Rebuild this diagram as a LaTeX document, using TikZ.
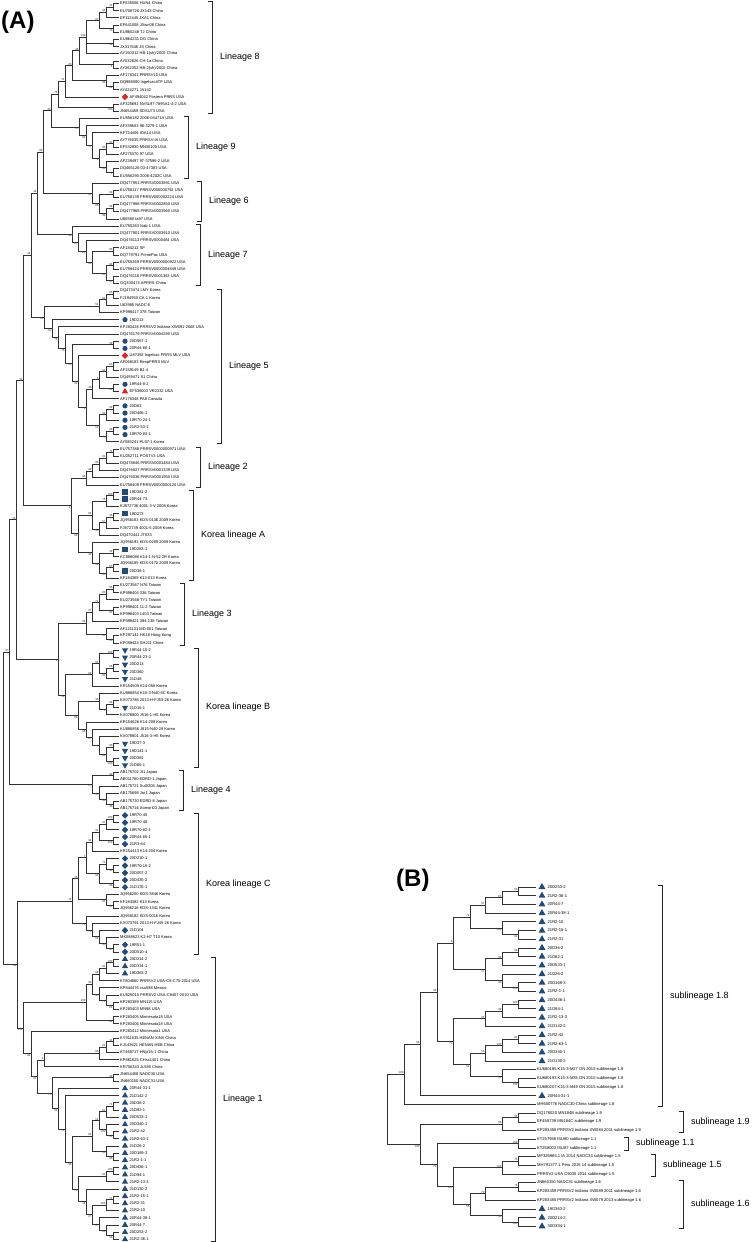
\documentclass[tikz,border=0pt]{standalone}
\usepackage{fontspec}
\setmainfont{Liberation Sans}
\usetikzlibrary{calc,shapes.geometric}

\definecolor{mkblue}{RGB}{31,75,125}
\definecolor{mkred}{RGB}{232,32,30}

% a clade: name, x, bootstrap, children from top to bottom
\newcommand\clade[4]{%
  \foreach \kid [count=\kn] in {#4}{\ifnum\kn=1 \xdef\kfirst{\kid}\fi \xdef\klast{\kid}}%
  \path let \p1=($(\kfirst)!.5!(\klast)$) in coordinate (#1) at (#2pt,\y1);
  \expandafter\xdef\csname bs#1\endcsname{#3}%
  \foreach \kid [count=\kn] in {#4}{%
    \draw[branch] (#1) |- (\kid);
    \ifcsname bs\kid\endcsname
      \ifnum\kn=1 \node[boot, anchor=south east] (v\kid) at (\kid) {\csname bs\kid\endcsname};%
      \else \node[boot, anchor=north east] (v\kid) at (\kid) {\csname bs\kid\endcsname};\fi
    \fi}%
}
% a bracket: x, first tip, last tip, text, name
\newcommand\lineage[5]{%
  \path let \p1=(#2), \p2=(#3) in
    coordinate (#5t) at (#1pt,\y1+2pt)
    coordinate (#5b) at (#1pt,\y2-2pt);
  \draw[bracket] ([xshift=-4.5pt]#5t) -- (#5t) -- (#5b) -- ([xshift=-4.5pt]#5b);
  \path ($(#5t)!.5!(#5b)$) ++(8,0) node[lin] (#5) {#4};
}

\begin{document}
\begin{tikzpicture}[x=1pt, y=-1pt,
  branch/.style={draw=black!80, line width=0.8pt},
  boot/.style={font=\fontsize{2.9}{3}\selectfont, inner sep=0.3pt, text=black!80},
  leafA/.style={font=\fontsize{4}{4.6}\selectfont, inner sep=0pt, anchor=west},
  leafB/.style={font=\fontsize{4.1}{4.8}\selectfont, inner sep=0pt, anchor=west},
  bracket/.style={draw=black!85, line width=0.8pt},
  lin/.style={font=\fontsize{9}{10}\selectfont, inner sep=0pt, anchor=west},
  panel/.style={font=\fontsize{24}{26}\selectfont\bfseries, inner sep=0pt, anchor=west},
  mkc/.style={circle, fill=mkblue, minimum size=5.2pt, inner sep=0pt},
  mks/.style={rectangle, fill=mkblue, minimum size=5.6pt, inner sep=0pt},
  mkd/.style={diamond, fill=mkblue, minimum size=6.6pt, inner sep=0pt},
  mkv/.style={regular polygon, regular polygon sides=3, shape border rotate=180, fill=mkblue, minimum size=7.2pt, inner sep=0pt},
  mkt/.style={regular polygon, regular polygon sides=3, fill=mkblue, minimum size=7.2pt, inner sep=0pt},
  mkr/.style={diamond, fill=mkred, minimum size=6.6pt, inner sep=0pt},
  mkq/.style={regular polygon, regular polygon sides=3, fill=mkred, minimum size=7.2pt, inner sep=0pt}]

\path[use as bounding box, fill=white] (0,0) rectangle (752,1242);

\node[panel] (pa) at (1,22) {(A)};
\node[panel] (pb) at (396,880) {(B)};

% tree A tips
\foreach \txt/\mk [count=\i from 0] in {
  EF635006 HUN4 China/n,
  EU708726 JX143 China/n,
  EF112445 JXA1 China/n,
  EF641008 JXwn06 China/n,
  EU860248 TJ China/n,
  EU864231 DG China/n,
  JX317648 JS China/n,
  {AY150312 HB-1(sh)/2002 China}/n,
  AY032626 CH-1a China/n,
  {AY262352 HB-2(sh)/2002 China}/n,
  AF176341 PRRSV10 USA/n,
  DQ988080 IngelvacATP USA/n,
  AY424271 JA142/n,
  AF494042 Fostera PRRS USA/r,
  AF325691 NVSL97-7895A1-4-2 USA/n,
  JN654459 SDSU73 USA/n,
  EU556182 2006-04471A USA/n,
  AF339503 98-3279-1 USA/n,
  KF724406 IOA14 USA/n,
  AY776035 PRRSV-IA USA/n,
  EF532830 MN30100 USA/n,
  AF275370 97 USA/n,
  AF239497 97-37596-2 USA/n,
  DQ465126 03-47383 USA/n,
  EU556290 2006-4202C USA/n,
  DQ477951 PRRSV0003891 USA/n,
  EU758117 PRRSV000000792 USA/n,
  EU758139 PRRSV000002224 USA/n,
  DQ477988 PRRSV0002850 USA/n,
  DQ477968 PRRSV0003960 USA/n,
  U66560 Ia97 USA/n,
  EU755263 Nab-1 USA/n,
  DQ477901 PRRSV0003910 USA/n,
  DQ476113 PRRSV0000484 USA/n,
  AF184212 SP/n,
  DQ779791 PrimePac USA/n,
  EU755269 PRRSV0000000922 USA/n,
  EU758424 PRRSV0000004849 USA/n,
  DQ476116 PRRSV0001363 USA/n,
  GQ330474 APRRS China/n,
  DQ473474 LMY Korea/n,
  FJ194950 CA-1 Korea/n,
  U63985 NADC-8/n,
  KP998417 378 Taiwan/n,
  19D213/c,
  KP283426 PRRSV2 Indiana XW091-2008 USA/n,
  DQ476179 PRRSV0004280 USA/n,
  20D567-1/c,
  20R44-60-1/c,
  U87392 Ingelvac PRRS MLV USA/r,
  AF066183 RespPRRS MLV/n,
  AF159149 BJ-4/n,
  DQ459471 S1 China/n,
  19R44-8-2/c,
  EF536003 VR2332 USA/q,
  AF176348 PA8 Canada/n,
  20D63/c,
  20D466-1/c,
  19R70-24-1/c,
  21R2-53-1/c,
  19R70-83-1/c,
  AY585241 PL97-1 Korea/n,
  EU757388 PRRSV0000000971 USA/n,
  KU252711 POSTV3 USA/n,
  DQ478846 PRRSV0001484 USA/n,
  DQ476827 PRRSV0001339 USA/n,
  DQ476036 PRRSV0001950 USA/n,
  EU758409 PRRSV0000000120 USA/n,
  19D381-2/s,
  20R44-73/s,
  KJ872738 4001-3-V-2008 Korea/n,
  19D273/s,
  JQ956183 KDS-0136 2009 Korea/n,
  FJ872739 4001-5-2008 Korea/n,
  DQ470441 JT633/n,
  JQ956191 KDS-0209 2009 Korea/n,
  19D283-1/s,
  KC888086 K14-1-N-52 2R Korea/n,
  JQ956185 KDS-0170 2009 Korea/n,
  20D36-1/s,
  KF184369 K13-013 Korea/n,
  EU273567 N76 Taiwan/n,
  KP998404 336 Taiwan/n,
  EU273568 TY1 Taiwan/n,
  KP998401 11-2 Taiwan/n,
  KP998403 1403 Taiwan/n,
  KP998421 384-138 Taiwan/n,
  AF121131 MD-001 Taiwan/n,
  KP297141 HK16 Hong Kong/n,
  KP059424 SH211 China/n,
  19R44-10-2/v,
  20R44-23-2/v,
  20D213/v,
  20D360/v,
  21D48/v,
  KR154509 K14-056 Korea/n,
  KU886854 K15-3-N40 6C Korea/n,
  KX073786 2013-H-FJ53-26 Korea/n,
  21D16-1/v,
  KX078800 J516-1-H5 Korea/n,
  KR154626 K14-209 Korea/n,
  KU886856 J815-N40-29 Korea/n,
  KX078801 J516-3-H5 Korea/n,
  19D37-3/v,
  19D141-1/v,
  20D391/v,
  21D66-1/v,
  AB175702 Jt1 Japan/n,
  AB011760 EDRD-1 Japan/n,
  AB175721 SuI0206 Japan/n,
  AB175698 Jor1 Japan/n,
  AB175720 EDRD-8 Japan/n,
  AB175716 Aomori03 Japan/n,
  19R70-45/d,
  19R70-48/d,
  19R70-82-1/d,
  20R44-65-1/d,
  21R3-64/d,
  KR154413 K14-204 Korea/n,
  20D210-1/d,
  19R70-16-2/d,
  20D057-2/d,
  20D435-2/d,
  21D176-1/d,
  JQ956200 KDS-3846 Korea/n,
  KF184382 K13 Korea/n,
  JQ956216 KDS-1341 Korea/n,
  JQ956182 KDS-0016 Korea/n,
  KX073791 2013-H-FJ45-26 Korea/n,
  21D104/d,
  MK088623 K2-H7 T10 Korea/n,
  19R51-1/d,
  20D510-4/d,
  20D214-2/t,
  20D334-1/t,
  19D363-2/t,
  KT804660 PRRSV2 USA-C8-C70-2014 USA/n,
  KP844476 csu588 Mexico/n,
  KU525015 PRRSV2 USA-C8457-2010 USA/n,
  KP283389 MN115 USA/n,
  KP283403 MN98 USA/n,
  KP283405 Minnesota18 USA/n,
  KP283406 Minnesota18 USA/n,
  KP283412 Minnesota1 USA/n,
  KY911635 HENAN-XINX China/n,
  KJ143621 HENAN-HEB China/n,
  KT468717 HNjz15-1 China/n,
  KP861625 CHsx1401 China/n,
  KR706343 JL580 China/n,
  JN654458 NADC30 USA/n,
  JN660150 NADC31 USA/n,
  20R44-31-1/t,
  21D142-2/t,
  20D36-2/t,
  21D82-1/t,
  20D533-1/t,
  20D340-1/t,
  21R2-42/t,
  21R2-63-1/t,
  21D26-2/t,
  20D169-3/t,
  21R2-1-1/t,
  20D436-1/t,
  21D94-1/t,
  21R2-13-3/t,
  21D130-2/t,
  21R2-15-1/t,
  21R2-31/t,
  21R2-10/t,
  20R44-38-1/t,
  20R44-7/t,
  20D253-2/t,
  21R2-36-1/t}{
  \coordinate (a\i) at (119, {3.5+7.185*\i});
  \if n\mk
    \node[leafA] (la\i) at ([xshift=1pt]a\i) {\txt};
  \else
    \node[mk\mk] (ma\i) at ([xshift=6pt]a\i) {};
    \node[leafA] (la\i) at ([xshift=10.5pt]a\i) {\txt};
  \fi
}

% lineage 8
\clade{N1}{113}{41}{a0,a1}
\clade{N2}{106}{94}{N1,a2}
\clade{N3}{113}{72}{a3,a4}
\clade{N4}{99}{87}{N2,N3}
\clade{N5}{113}{96}{a5,a6}
\clade{N6}{86}{100}{N4,N5,a7}
\clade{N7}{113}{4}{a8,a9}
\clade{N8}{79}{48}{N6,N7}
\clade{N9}{113}{99}{a11,a12}
\clade{N10}{106}{98}{a10,N9}
\clade{N11}{72}{28}{N8,N10}
\clade{N12}{65}{74}{N11,a13}
\clade{N13}{113}{100}{a14,a15}
\clade{N14}{58}{75}{N12,N13}
% lineage 9
\clade{G1}{113}{41}{a19,a20}
\clade{G2}{106}{80}{G1,a21}
\clade{G3}{113}{4}{a23,a24}
\clade{G4}{106}{94}{a22,G3}
\clade{G5}{99}{4}{G2,G4}
\clade{G6}{92}{74}{a18,G5}
\clade{G7}{86}{92}{a17,G6}
\clade{G8}{79}{97}{a16,G7}
\clade{N15}{51}{40}{N14,G8}
% lineage 6
\clade{S1}{113}{99}{a26,a27}
\clade{S2}{113}{98}{a28,a29}
\clade{S3}{106}{99}{S2,a30}
\clade{S4}{99}{85}{S1,S3}
\clade{S5}{92}{93}{a25,S4}
\clade{N16}{43}{86}{N15,S5}
% lineage 7
\clade{V1}{113}{95}{a34,a35}
\clade{V2}{113}{98}{a36,a37}
\clade{V3}{113}{47}{a38,a39}
\clade{V4}{106}{91}{V2,V3}
\clade{V5}{92}{98}{V1,V4}
\clade{V6}{86}{85}{a33,V5}
\clade{V7}{78}{87}{a32,V6}
\clade{V8}{72}{99}{a31,V7}
\clade{N17}{37}{49}{N16,V8}
% lineage 5
\clade{F1}{113}{65}{a40,a41}
\clade{F2}{106}{99}{F1,a42}
\clade{F3}{99}{54}{F2,a43}
\clade{F4}{113}{38}{a47,a48}
\clade{F5}{113}{81}{a50,a51}
\clade{F6}{106}{91}{F5,a52}
\clade{F7}{113}{96}{a53,a54}
\clade{F8}{99}{8}{F6,F7}
\clade{F9}{92}{45}{F8,a55}
\clade{F10}{113}{99}{a56,a57}
\clade{F11}{106}{62}{F10,a58}
\clade{F12}{113}{98}{a59,a60}
\clade{F13}{106}{5}{F12,a61}
\clade{F14}{99}{51}{F11,F13}
\clade{F15}{86}{2}{F9,F14}
\clade{F16}{78}{22}{a49,F15}
\clade{F17}{72}{56}{F4,F16}
\clade{F18}{65}{73}{a46,F17}
\clade{F19}{58}{76}{a45,F18}
\clade{F20}{52}{62}{a44,F19}
\clade{F21}{44}{98}{F3,F20}
\clade{N18}{31}{39}{N17,F21}
% lineage 2 and Korea lineage A
\clade{E1}{113}{74}{a62,a63}
\clade{E2}{106}{91}{E1,a64}
\clade{E3}{99}{86}{E2,a65}
\clade{E4}{92}{99}{E3,a66}
\clade{E5}{86}{96}{E4,a67}
\clade{K1}{113}{100}{a68,a69}
\clade{K2}{106}{75}{K1,a70}
\clade{K3}{113}{46}{a71,a72}
\clade{K4}{106}{57}{K3,a73}
\clade{K5}{99}{50}{K4,a74}
\clade{K6}{92}{84}{K2,K5}
\clade{K7}{113}{46}{a76,a77}
\clade{K8}{113}{65}{a78,a79}
\clade{K9}{106}{46}{K8,a80}
\clade{K10}{99}{91}{K7,K9}
\clade{K11}{92}{40}{a75,K10}
\clade{K12}{78}{83}{K6,K11}
\clade{E6}{71}{2}{E5,K12}
\clade{N19}{23}{51}{N18,E6}
% lineage 3 and Korea lineage B
\clade{H1}{113}{96}{a81,a82}
\clade{H2}{106}{80}{H1,a83}
\clade{H3}{113}{92}{a84,a85}
\clade{H4}{99}{71}{H2,H3}
\clade{H5}{92}{27}{H4,a86}
\clade{H6}{113}{96}{a88,a89}
\clade{H7}{106}{91}{a87,H6}
\clade{H8}{86}{66}{H5,H7}
\clade{J1}{113}{100}{a90,a91}
\clade{J2}{113}{86}{a92,a93}
\clade{J3}{106}{81}{J2,a94}
\clade{J4}{99}{61}{J1,J3}
\clade{J5}{92}{99}{J4,a95}
\clade{J6}{113}{94}{a97,a98}
\clade{J7}{106}{5}{J6,a99}
\clade{J8}{99}{35}{a96,J7}
\clade{J9}{113}{99}{a103,a104}
\clade{J10}{113}{100}{a105,a106}
\clade{J11}{106}{81}{J9,J10}
\clade{J12}{99}{7}{a102,J11}
\clade{J13}{92}{87}{a101,J12}
\clade{J14}{86}{96}{a100,J13}
\clade{J15}{78}{99}{J8,J14}
\clade{J16}{65}{58}{J5,J15}
\clade{H9}{58}{9}{H8,J16}
\clade{N20}{16}{33}{N19,H9}
% lineage 4
\clade{W1}{113}{99}{a107,a108}
\clade{W2}{113}{49}{a111,a112}
\clade{W3}{106}{84}{a110,W2}
\clade{W4}{99}{57}{a109,W3}
\clade{W5}{92}{67}{W1,W4}
\clade{N21}{9}{47}{N20,W5}
% Korea lineage C
\clade{C1}{113}{100}{a113,a114}
\clade{C2}{106}{61}{C1,a115}
\clade{C3}{113}{100}{a116,a117}
\clade{C4}{99}{31}{C2,C3}
\clade{C5}{92}{92}{C4,a118}
\clade{C6}{113}{96}{a120,a121}
\clade{C7}{106}{71}{a119,C6}
\clade{C8}{113}{99}{a122,a123}
\clade{C9}{99}{93}{C7,C8}
\clade{C10}{86}{7}{C5,C9}
\clade{C11}{113}{47}{a125,a126}
\clade{C12}{106}{81}{a124,C11}
\clade{C13}{78}{16}{C10,C12}
\clade{C14}{113}{97}{a131,a132}
\clade{C15}{106}{96}{a130,C14}
\clade{C16}{99}{54}{a129,C15}
\clade{C17}{92}{73}{a128,C16}
\clade{C18}{86}{70}{a127,C17}
\clade{C19}{72}{16}{C13,C18}
% lineage 1
\clade{T1}{113}{100}{a133,a134}
\clade{T2}{106}{81}{T1,a135}
\clade{T3}{99}{88}{T2,a136}
\clade{T4}{113}{81}{a139,a140}
\clade{T5}{106}{71}{a138,T4}
\clade{T6}{99}{65}{a137,T5}
\clade{T7}{92}{99}{T3,T6}
\clade{T8}{113}{98}{a141,a142}
\clade{T9}{86}{100}{T7,T8}
\clade{U1}{113}{41}{a144,a145}
\clade{U2}{106}{21}{U1,a146}
\clade{U3}{99}{85}{U2,a147}
\clade{U4}{44}{0}{U3,a148}
\clade{U5}{113}{99}{a149,a150}
\clade{R1}{113}{71}{a153,a154}
\clade{R2}{106}{61}{R1,a155}
\clade{R3}{113}{95}{a157,a158}
\clade{R4}{106}{100}{a156,R3}
\clade{R5}{99}{51}{R2,R4}
\clade{R6}{113}{95}{a160,a161}
\clade{R7}{106}{91}{a159,R6}
\clade{R8}{92}{84}{R5,R7}
\clade{R9}{113}{100}{a162,a163}
\clade{R10}{106}{93}{R9,a164}
\clade{R11}{113}{71}{a166,a167}
\clade{R12}{106}{100}{R11,a168}
\clade{R13}{113}{52}{a171,a172}
\clade{R14}{106}{83}{a170,R13}
\clade{R15}{99}{97}{a169,R14}
\clade{R16}{92}{27}{R12,R15}
\clade{R17}{86}{34}{a165,R16}
\clade{R18}{78}{70}{R10,R17}
\clade{R19}{72}{58}{R8,R18}
\clade{U6}{65}{78}{a152,R19}
\clade{U7}{58}{61}{a151,U6}
\clade{U8}{52}{76}{U5,U7}
\clade{U9}{37}{41}{U4,U8}
\clade{U10}{31}{94}{a143,U9}
\clade{T10}{23}{100}{T9,U10}
\clade{N22}{17}{88}{C19,T10}
\clade{N23}{3}{88}{N21,N22}

\lineage{212}{a0}{a15}{Lineage 8}{lin8}
\lineage{188}{a16}{a24}{Lineage 9}{lin9}
\lineage{201}{a25}{a30}{Lineage 6}{lin6}
\lineage{200}{a31}{a39}{Lineage 7}{lin7}
\lineage{221}{a40}{a61}{Lineage 5}{lin5}
\lineage{200}{a62}{a67}{Lineage 2}{lin2}
\lineage{193}{a68}{a80}{Korea lineage A}{linKA}
\lineage{184}{a81}{a89}{Lineage 3}{lin3}
\lineage{198}{a90}{a106}{Korea lineage B}{linKB}
\lineage{183}{a107}{a112}{Lineage 4}{lin4}
\lineage{198}{a113}{a132}{Korea lineage C}{linKC}
\lineage{215}{a133}{a172}{Lineage 1}{lin1}

% tree B tips
\foreach \txt/\mk [count=\j from 0] in {
  20D253-2/t,
  21R2-36-1/t,
  20R44-7/t,
  20R44-38-1/t,
  21R2-10/t,
  21R2-15-1/t,
  21R2-31/t,
  20D36-2/t,
  21D82-1/t,
  20D533-1/t,
  21D26-2/t,
  20D169-3/t,
  21R2-1-1/t,
  20D436-1/t,
  21D94-1/t,
  21R2-13-3/t,
  21D142-2/t,
  21R2-42/t,
  21R2-63-1/t,
  20D340-1/t,
  21D130-2/t,
  KU680185 K15-3-M27 ON 2015 sublineage 1.8/n,
  KU680193 K15-3-M35 ON 2015 sublineage 1.8/n,
  KU680207 K15-3-M49 ON 2015 sublineage 1.8/n,
  20R44-31-1/t,
  MH500776 NADC30-China sublineage 1.8/n,
  DQ176020 MN184B sublineage 1.9/n,
  EF458739 MN184C sublineage 1.9/n,
  KP283458 PRRSV2 Indiana XW084 2011 sublineage 1.9/n,
  KT257958 ISU80 sublineage 1.1/n,
  KT258003 ISU87 sublineage 1.1/n,
  MF326985.1 IA 2014 NADC34 sublineage 1.5/n,
  MH791377.1 Peru 2015 14 sublineage 1.5/n,
  PRRSV2 USA C9035 2014 sublineage 1.5/n,
  JN660150 NADC31 sublineage 1.6/n,
  KP283459 PRRSV2 Indiana XW089 2011 sublineage 1.6/n,
  KP283455 PRRSV2 Indiana XW079 2013 sublineage 1.6/n,
  19D363-2/t,
  20D214-2/t,
  30D334-1/t}{
  \coordinate (b\j) at (536, {887+8.7*\j});
  \if n\mk
    \node[leafB] (lb\j) at ([xshift=1pt]b\j) {\txt};
  \else
    \node[mk\mk, minimum size=8pt] (mb\j) at ([xshift=6pt]b\j) {};
    \node[leafB] (lb\j) at ([xshift=11.5pt]b\j) {\txt};
  \fi
}

\clade{q1}{518}{52}{b0,b1}
\clade{q2}{502}{83}{q1,b2}
\clade{q3}{485}{97}{q2,b3}
\clade{q4}{518}{91}{b5,b6}
\clade{q5}{502}{100}{b4,q4}
\clade{q6}{470}{71}{q3,q5}
\clade{q7}{518}{92}{b7,b8}
\clade{q8}{502}{99}{q7,b9}
\clade{q9}{518}{100}{b11,b12}
\clade{q10}{502}{90}{b10,q9}
\clade{q11}{485}{17}{q8,q10}
\clade{q12}{453}{6}{q6,q11}
\clade{q13}{518}{100}{b13,b14}
\clade{q14}{502}{99}{q13,b15}
\clade{q15}{485}{26}{q14,b16}
\clade{q16}{518}{81}{b17,b18}
\clade{q17}{502}{100}{q16,b19}
\clade{q18}{485}{51}{q17,b20}
\clade{q19}{518}{100}{b22,b23}
\clade{q20}{502}{64}{b21,q19}
\clade{q21}{470}{51}{q18,q20}
\clade{q22}{453}{71}{q15,q21}
\clade{q23}{437}{96}{q12,q22}
\clade{q24}{420}{98}{q23,b24}
\clade{q25}{404}{100}{q24,b25}
\clade{q26}{518}{63}{b26,b27}
\clade{q27}{502}{96}{q26,b28}
\clade{q28}{518}{100}{b29,b30}
\clade{q29}{518}{75}{b31,b32}
\clade{q30}{502}{100}{q29,b33}
\clade{q31}{518}{75}{b34,b35}
\clade{q32}{485}{79}{q31,b36}
\clade{q33}{518}{100}{b38,b39}
\clade{q34}{502}{58}{b37,q33}
\clade{q35}{470}{55}{q32,q34}
\clade{q36}{453}{100}{q30,q35}
\clade{q37}{437}{79}{q28,q36}
\clade{q38}{420}{100}{q27,q37}
\clade{q39}{387}{}{q25,q38}

\lineage{662}{b0}{b25}{sublineage 1.8}{sl18}
\lineage{683}{b26}{b28}{sublineage 1.9}{sl19}
\lineage{628}{b29}{b30}{sublineage 1.1}{sl11}
\lineage{655}{b31}{b33}{sublineage 1.5}{sl15}
\lineage{683}{b34}{b39}{sublineage 1.6}{sl16}
\end{tikzpicture}
\end{document}
